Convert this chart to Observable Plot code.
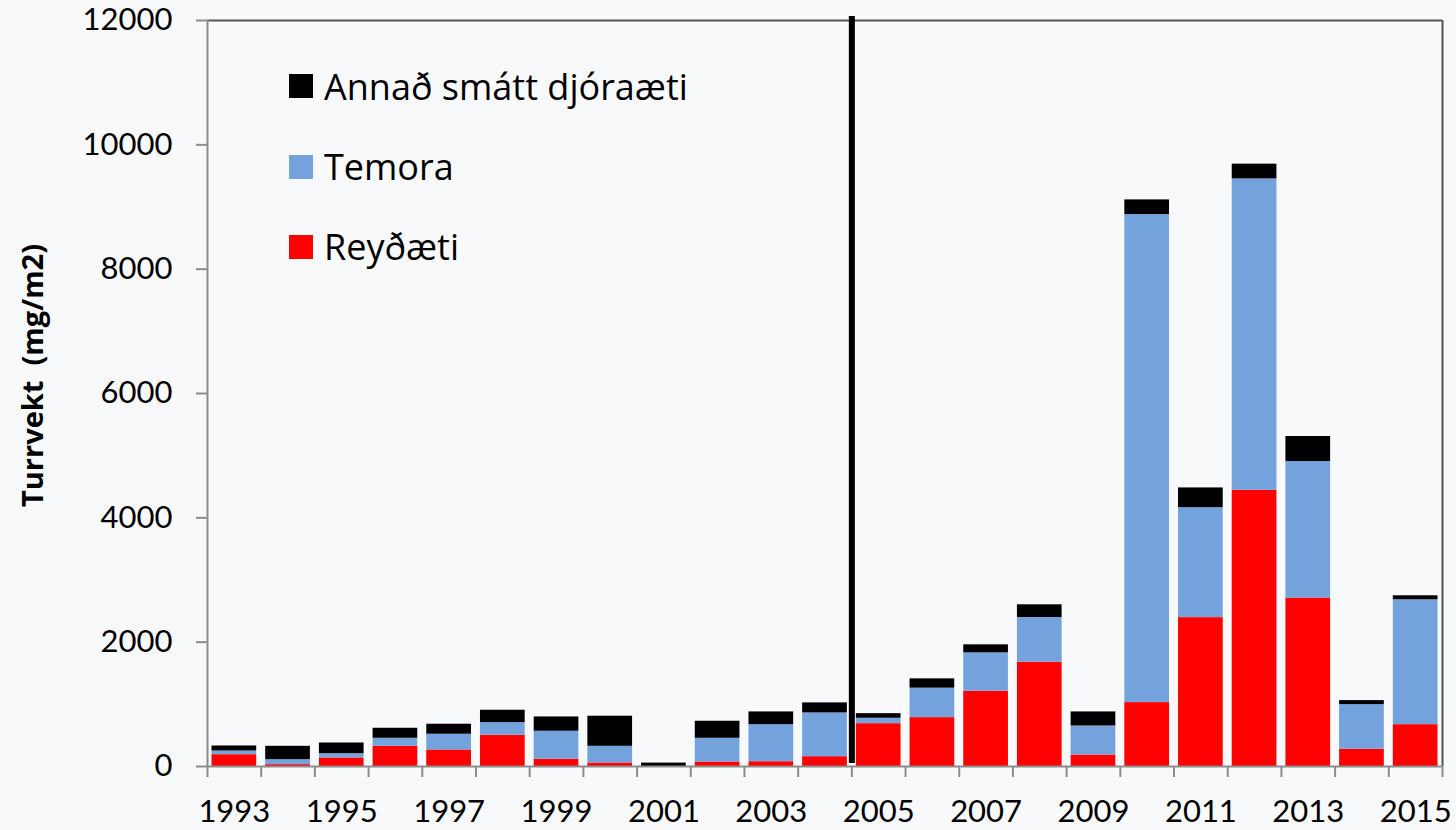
<!DOCTYPE html>
<html>
<head>
<meta charset="utf-8">
<script src="https://cdn.jsdelivr.net/npm/d3@7"></script>
<script src="https://cdn.jsdelivr.net/npm/@observablehq/plot@0.6"></script>
<style>
  html, body { margin: 0; padding: 0; background: #f8f9fb; }
  #wrap { position: relative; width: 1456px; height: 830px; overflow: hidden; }
  #legend { position: absolute; left: 289px; top: 0; font-family: "Open Sans", Lato, sans-serif; font-size: 36px; color: #000; }
  .item { position: absolute; left: 0; height: 40px; display: flex; align-items: center; white-space: nowrap; }
  .sw { width: 24px; height: 24px; margin-right: 11px; flex: none; }
</style>
</head>
<body>
<div id="wrap"><div id="legend"></div></div>
<script>
// ---- Data ----
const years = [1993, 1994, 1995, 1996, 1997, 1998, 1999, 2000, 2001, 2002, 2003, 2004,
               2005, 2006, 2007, 2008, 2009, 2010, 2011, 2012, 2013, 2014, 2015];
const reydaeti = [190, 30, 137, 325, 266, 502, 116, 56, 0, 72, 77, 158,
                  689, 786, 1211, 1678, 185, 1028, 2395, 4443, 2709, 277, 673];
const temora   = [60, 80, 69, 129, 253, 204, 451, 269, 0, 382, 596, 704,
                  87, 474, 617, 719, 467, 7851, 1769, 5009, 2196, 718, 2009];
const annad    = [80, 215, 172, 161, 161, 199, 230, 484, 55, 274, 205, 161,
                  74, 150, 129, 204, 226, 235, 317, 237, 403, 65, 64];
const seriesNames  = ["Reyðæti", "Temora", "Annað smátt djóraæti"];
const seriesColors = ["#ff0000", "#73a2dc", "#000000"];
const legendOrder  = ["Annað smátt djóraæti", "Temora", "Reyðæti"];
const labelYears = [1993, 1995, 1997, 1999, 2001, 2003, 2005, 2007, 2009, 2011, 2013, 2015];
const yTicks = [0, 2000, 4000, 6000, 8000, 10000, 12000];
const yMax = 12000;
const breakBetween = [2004, 2005];
const yTitle = "Turrvekt\u00a0 (mg/m2)";

// ---- Build table ----
const seriesValues = [reydaeti, temora, annad];
const data = years.flatMap((yr, i) => seriesNames.map((s, k) => ({year: yr, series: s, value: seriesValues[k][i]})));
const xMin = years[0] - 0.5, xMax = years[years.length - 1] + 0.5;
const boundaries = [...years.map(y => y - 0.5), xMax];
const breakX = (breakBetween[0] + breakBetween[1]) / 2;

const chart = Plot.plot({
  width: 1456,
  height: 830,
  marginLeft: 207,
  marginRight: 14,
  marginTop: 20,
  marginBottom: 64,
  style: {background: "#f8f9fb", fontFamily: "Lato, 'Open Sans', sans-serif", fontSize: "31px", color: "#000"},
  x: {type: "linear", domain: [xMin, xMax]},
  y: {domain: [0, yMax]},
  color: {domain: seriesNames, range: seriesColors},
  marks: [
    Plot.rectY(data, {x1: d => d.year - 0.5, x2: d => d.year + 0.5, y: "value", fill: "series",
                      insetLeft: 4.5, insetRight: 4.5}),
    Plot.ruleY([yMax], {stroke: "#555", strokeWidth: 2}),
    Plot.ruleX([xMax], {stroke: "#555", strokeWidth: 2}),
    Plot.ruleX([xMin], {stroke: "#8c8c8c", strokeWidth: 2}),
    Plot.ruleY([0], {stroke: "#8c8c8c", strokeWidth: 2}),
    Plot.ruleX([breakX], {stroke: "#000", strokeWidth: 6, insetTop: -4, insetBottom: 3}),
    Plot.axisY({ticks: yTicks, tickFormat: "d", tickSize: 11, tickPadding: 24, label: null,
                stroke: "#8c8c8c", strokeWidth: 2}),
    Plot.axisX({ticks: labelYears, tickFormat: "d", tickSize: 0, tickPadding: 33, label: null}),
    Plot.axisX({ticks: boundaries, tickSize: 11, text: null, label: null, stroke: "#8c8c8c", strokeWidth: 2}),
    Plot.text([yTitle], {frameAnchor: "left", textAnchor: "middle", rotate: -90, dx: -174, dy: -18,
                         fontFamily: "'Open Sans', Lato, sans-serif",
                         fontWeight: "bold", fontSize: 29, fill: "#000"})
  ]
});
document.getElementById("wrap").prepend(chart);

// ---- Legend (inside plot area, top-left) ----
const legend = document.getElementById("legend");
const rowTops = [66, 146.5, 226.5];
legendOrder.forEach((name, i) => {
  const row = document.createElement("div");
  row.className = "item";
  row.style.top = rowTops[i] + "px";
  const sw = document.createElement("span");
  sw.className = "sw";
  sw.style.background = seriesColors[seriesNames.indexOf(name)];
  const tx = document.createElement("span");
  tx.textContent = name;
  row.append(sw, tx);
  legend.append(row);
});
</script>
</body>
</html>
